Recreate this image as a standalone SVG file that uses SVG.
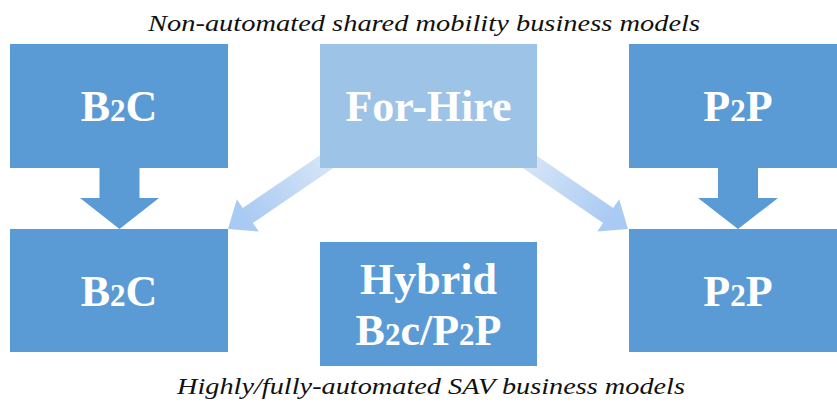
<svg xmlns="http://www.w3.org/2000/svg" width="837" height="405" viewBox="0 0 837 405">
  <style>
    .box { fill: #5B9BD5; }
    .box-light { fill: #9DC3E6; }
    .label { font-family: "Liberation Serif", "DejaVu Serif", serif; font-weight: bold; font-size: 44px; fill: #FFFFFF; text-anchor: middle; }
    .fig { font-size: 31px; }
    .caption { font-family: "Liberation Serif", "DejaVu Serif", serif; font-style: italic; font-size: 23px; fill: #111111; }
    .down { fill: #5B9BD5; }
  </style>
  <defs>
    <!-- light at the tail, deeper blue towards the head (local arrow coordinates, tip at 0,0) -->
    <linearGradient id="fadeArrow" gradientUnits="userSpaceOnUse" x1="-130" y1="0" x2="-20" y2="0">
      <stop offset="0" stop-color="#DAE7F8"/>
      <stop offset="1" stop-color="#A9CAF2"/>
    </linearGradient>
    <!-- block arrow pointing along +x, tip at the origin -->
    <path id="blockArrow" d="M -150 -9 L -24 -9 L -24 -19.5 L 0 0 L -24 19.5 L -24 9 L -150 9 Z"/>
  </defs>

  <!-- captions -->
  <text class="caption" x="148" y="30.5" textLength="552" lengthAdjust="spacingAndGlyphs">Non-automated shared mobility business models</text>
  <text class="caption" x="177" y="394" textLength="508" lengthAdjust="spacingAndGlyphs">Highly/fully-automated SAV business models</text>

  <!-- connectors, drawn beneath the boxes -->
  <g id="connectors">
    <path class="down" d="M 99.5 160 L 139.5 160 L 139.5 198 L 159 198 L 119.5 229 L 80 198 L 99.5 198 Z"/>
    <path class="down" d="M 718 160 L 758 160 L 758 198 L 778 198 L 738 229 L 698 198 L 718 198 Z"/>
    <g transform="translate(228,229) rotate(145.7)">
      <use href="#blockArrow" fill="url(#fadeArrow)"/>
    </g>
    <g transform="translate(628,229) rotate(34.3)">
      <use href="#blockArrow" fill="url(#fadeArrow)"/>
    </g>
  </g>

  <g id="b2c-top">
    <rect class="box" x="10" y="44" width="218" height="124"/>
    <text class="label" x="119" y="120.5">B<tspan class="fig">2</tspan>C</text>
  </g>
  <g id="for-hire">
    <rect class="box-light" x="320" y="44" width="217" height="124"/>
    <text class="label" x="428.5" y="120.5">For-Hire</text>
  </g>
  <g id="p2p-top">
    <rect class="box" x="629" y="44" width="208" height="124"/>
    <text class="label" x="738" y="120.5">P<tspan class="fig">2</tspan>P</text>
  </g>
  <g id="b2c-bottom">
    <rect class="box" x="10" y="229" width="218" height="123"/>
    <text class="label" x="119" y="305.5">B<tspan class="fig">2</tspan>C</text>
  </g>
  <g id="hybrid">
    <rect class="box" x="320" y="242" width="217" height="124"/>
    <text class="label" x="428.5" y="294">Hybrid</text>
    <text class="label" x="428.5" y="345">B<tspan class="fig">2</tspan>c/P<tspan class="fig">2</tspan>P</text>
  </g>
  <g id="p2p-bottom">
    <rect class="box" x="629" y="229" width="208" height="123"/>
    <text class="label" x="738" y="305.5">P<tspan class="fig">2</tspan>P</text>
  </g>
</svg>
